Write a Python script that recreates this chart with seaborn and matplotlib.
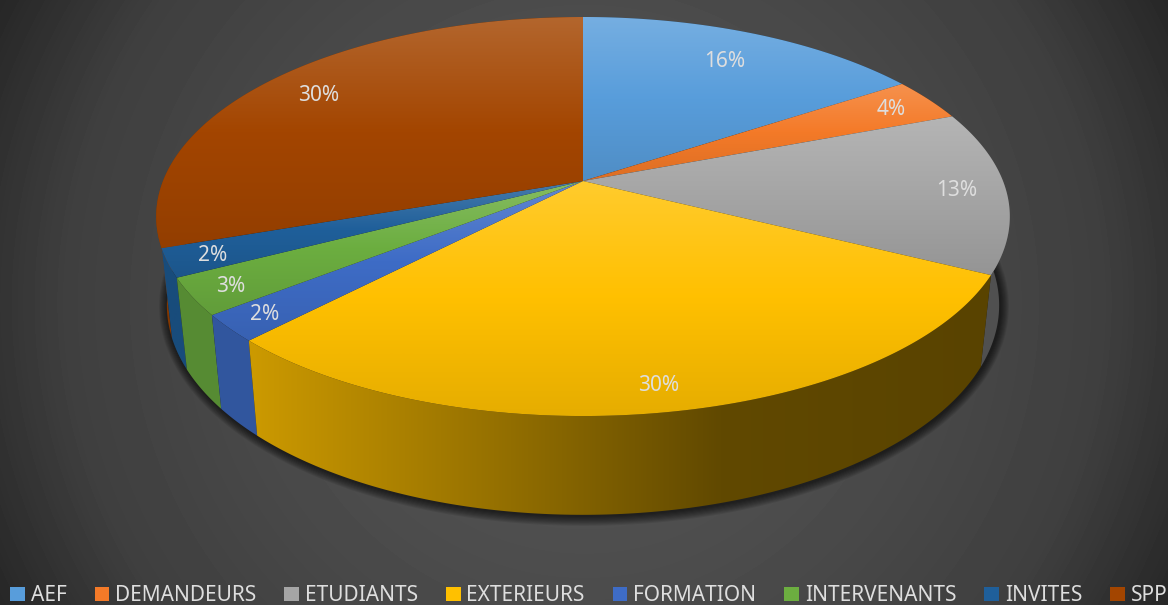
import numpy as np
import matplotlib
matplotlib.use("Agg")
import matplotlib.pyplot as plt
from matplotlib.patches import Patch, Polygon
import seaborn as sns

# Audience breakdown, in percent
categories = ["AEF", "DEMANDEURS", "ETUDIANTS", "EXTERIEURS",
              "FORMATION", "INTERVENANTS", "INVITES", "SPP"]
shares = [15.7, 3.51, 13.19, 29.8, 2.2, 3.0, 2.3, 30.3]
colors = ["#589DDB", "#F47A28", "#A5A5A5", "#FFC000",
          "#3E6CC6", "#6CAE40", "#1F5F9A", "#A34500"]

# Radial position of each percentage label on the disc
label_radius = [0.80, 0.885, 0.885, 0.90, 0.91, 0.91, 0.90, 0.84]
# How much each side wall keeps of its base colour compared with the others
wall_gain = [1, 1, 1.4, 1, 1, 1, 1, 1]

sns.set_theme(style="dark")
plt.rcParams["font.family"] = ["Noto Sans", "DejaVu Sans"]
palette = sns.color_palette(colors)

W, H = 1168, 605
fig = plt.figure(figsize=(W / 100, H / 100), dpi=100)
ax = fig.add_axes([0, 0, 1, 1])
ax.set_axis_off()

# Perspective view of the disc
CX, CY = 583.0, 181.0
RX, RY, PERSP = 420.0, 193.2, 0.178
DEPTH_SX, DEPTH_SY, DEPTH_DY = 0.975, 1.05, 78.0


def rim(theta, rho=1.0):
    w = 1 + PERSP * rho * np.cos(theta)
    return (CX + RX * rho * np.sin(theta) / w,
            CY - RY * rho * np.cos(theta) / w)


def lower(x, y):
    return CX + DEPTH_SX * (x - CX), DEPTH_SY * y + DEPTH_DY


def painted(poly_xy, rgba, extent):
    patch = Polygon(poly_xy, closed=True, facecolor="none", edgecolor="none")
    ax.add_patch(patch)
    im = ax.imshow(rgba, extent=extent, aspect="auto",
                   interpolation="bilinear", zorder=patch.get_zorder())
    im.set_clip_path(patch)
    return im


# Background radial glow
yy, xx = np.mgrid[0:H, 0:W]
r = np.hypot(xx - 584, yy - 302) / 650
grey = np.interp(r, [0, 0.45, 0.8, 1.02], [88, 76, 63, 38]) / 255
ax.imshow(grey, cmap="gray", vmin=0, vmax=1, extent=(0, W, H, 0),
          aspect="auto", interpolation="bilinear", zorder=0)

fractions = np.array(shares) / np.sum(shares)
edges = np.concatenate([[0], np.cumsum(fractions)]) * 2 * np.pi

# Narrow soft shadow hugging the base of the disc
t = np.linspace(0, 2 * np.pi, 360)
bx, by = lower(*rim(t))
by_mid = (by.min() + by.max()) / 2
for i in range(1, 10):
    sx = (429 + i) / 429
    sy = (190 + i) / 190
    ax.add_patch(Polygon(np.c_[CX + 1 + sx * (bx - CX), by_mid + 1 + sy * (by - by_mid)],
                         closed=True, facecolor="black", edgecolor="none",
                         alpha=0.085, zorder=1))

# Side walls, drawn from the back of the disc to the front
order = sorted(range(len(shares)), key=lambda k: -np.cos((edges[k] + edges[k + 1]) / 2))
for k in order:
    th = np.linspace(edges[k], edges[k + 1], 160)
    x_top, y_top = rim(th)
    x_low, y_low = lower(x_top, y_top)
    poly = np.r_[np.c_[x_top, y_top], np.c_[x_low, y_low][::-1]]
    x0, x1 = poly[:, 0].min() - 1, poly[:, 0].max() + 1
    y0, y1 = poly[:, 1].min() - 1, poly[:, 1].max() + 1
    xs = np.linspace(x0, x1, 200)
    shade = np.interp(xs, [250, 480, 720, 980], [0.80, 0.60, 0.38, 0.35]) * wall_gain[k]
    rgb = np.outer(shade, palette[k])[None, :, :]
    painted(poly, np.clip(rgb, 0, 1), (x0, x1, y1, y0))

# Top faces, each slice lit from its own upper edge
for k in range(len(shares)):
    th = np.linspace(edges[k], edges[k + 1], 200)
    x_top, y_top = rim(th)
    poly = np.r_[[[CX, CY]], np.c_[x_top, y_top]]
    x0, x1 = poly[:, 0].min() - 1, poly[:, 0].max() + 1
    y0, y1 = poly[:, 1].min() - 1, poly[:, 1].max() + 1
    v = np.linspace(0, 1, 200)
    base = np.array(palette[k])
    tint = np.clip(0.18 * (1 - 2 * v), 0, 1)[:, None]
    dim = (1 - 0.10 * np.clip(2 * v - 1, 0, 1))[:, None]
    rgb = (base * (1 - tint) + tint) * dim
    painted(poly, rgb[:, None, :], (x0, x1, y1, y0))

# Percentage labels
for k, (share, rho) in enumerate(zip(shares, label_radius)):
    lx, ly = rim((edges[k] + edges[k + 1]) / 2, rho)
    ax.text(lx, ly + 1, f"{share:.0f}%", color="#DEDEDE", fontsize=15,
            ha="center", va="center", zorder=5)

ax.set_xlim(0, W)
ax.set_ylim(H, 0)

handles = [Patch(facecolor=c, edgecolor="none", label=n) for c, n in zip(palette, categories)]
leg = ax.legend(handles=handles, loc="lower center", bbox_to_anchor=(0.5042, -0.002),
                ncol=len(categories), frameon=False, fontsize=15,
                labelcolor="#DEDEDE", handlelength=0.7, handleheight=0.7,
                handletextpad=0.28, columnspacing=1.35, borderpad=0, borderaxespad=0)

fig.savefig("out.png", dpi=100)
